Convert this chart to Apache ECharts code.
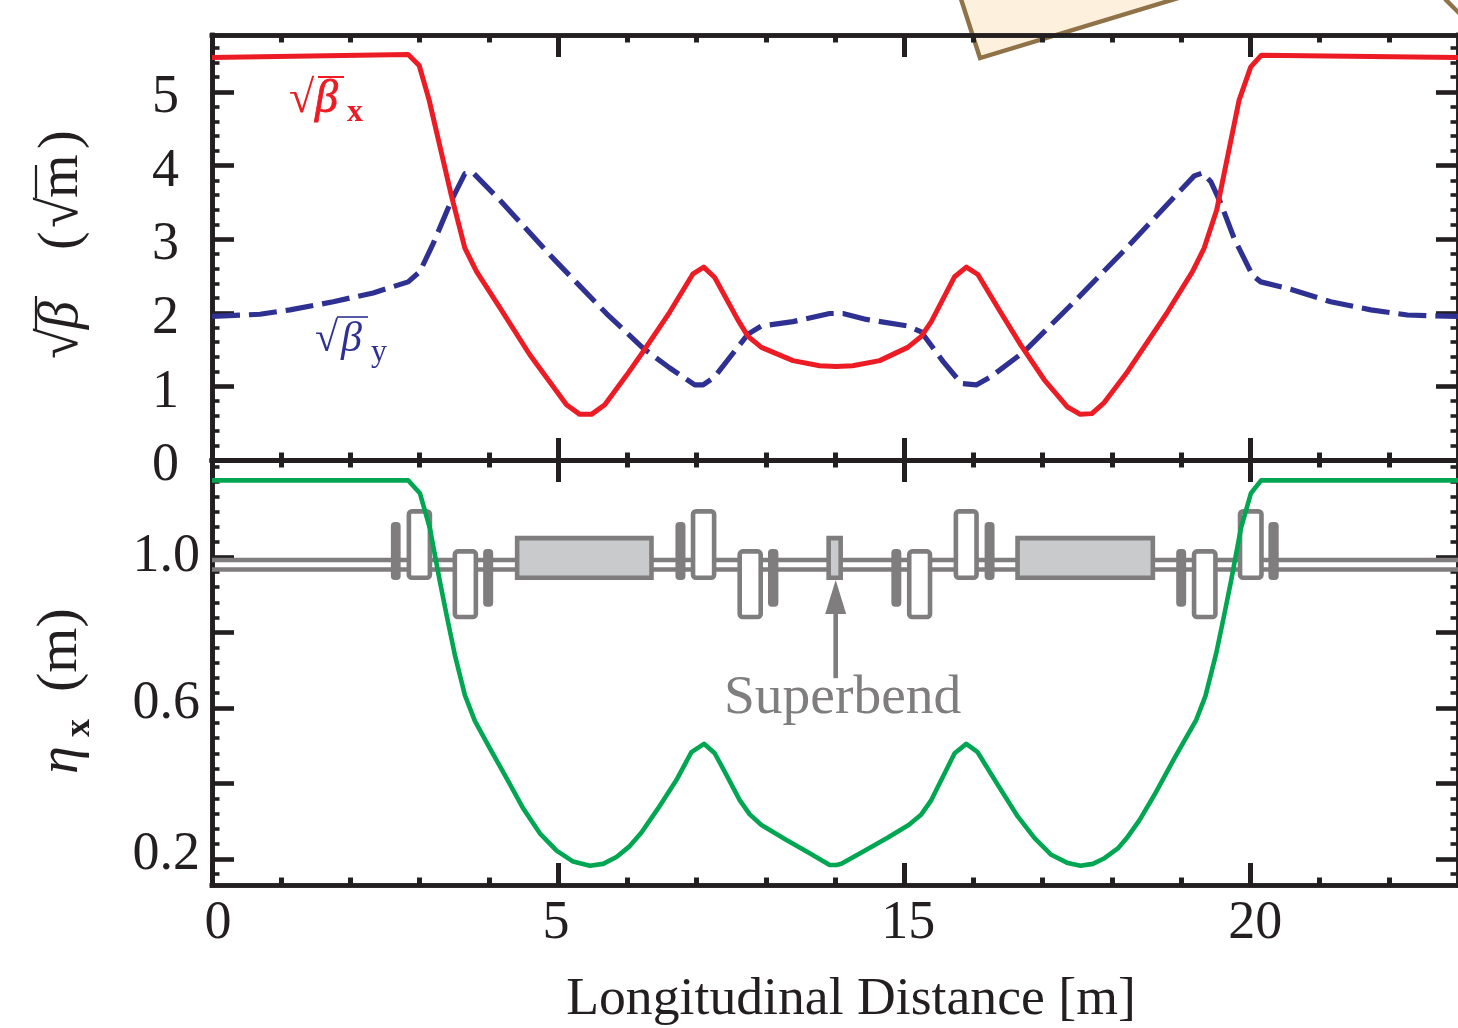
<!DOCTYPE html>
<html><head><meta charset="utf-8">
<style>html,body{margin:0;padding:0;background:#fff}#c{width:1458px;height:1028px}</style>
<script src="https://cdn.jsdelivr.net/npm/echarts@6/dist/echarts.min.js"></script>
</head><body><div id="c"></div>
<script>
// ---- data (x in axis tick units: 5 units per labelled tick) ----
const xMajor = [0, 5, 10, 15];
const xTickLabels = ['0', '5', '15', '20'];
const xMinor = [1, 2, 3, 4, 6, 7, 8, 9, 11, 12, 13, 14, 16, 17];
const betaMajor = [0, 1, 2, 3, 4, 5];
const betaMinor = [0.2,0.4,0.6,0.8,1.2,1.4,1.6,1.8,2.2,2.4,2.6,2.8,3.2,3.4,3.6,3.8,4.2,4.4,4.6,4.8,5.2,5.4,5.6];
const etaMajor = [0.2, 0.4, 0.6, 0.8, 1.0];
const etaLabels = {0.2: '0.2', 0.6: '0.6', 1: '1.0'};
const etaMinor = [0.16,0.24,0.28,0.32,0.36,0.44,0.48,0.52,0.56,0.64,0.68,0.72,0.76,0.84,0.88,0.92,0.96,1.04,1.08,1.12,1.16,1.2,1.24];

const betaXs = [0,2.834,2.993,3.137,3.461,3.653,3.822,4.158,4.591,5.121,5.313,5.482,5.674,5.988,6.227,6.613,6.949,7.104,7.262,7.599,7.743,7.937,8.393,8.778,9.02,9.255,9.645,10.05,10.247,10.391,10.728,10.897,11.064,11.377,11.685,12.023,12.359,12.543,12.71,12.889,13.226,13.803,14.164,14.333,14.515,14.838,15.006,15.16,18];
const betaX = [5.47,5.51,5.36,4.89,3.58,2.88,2.56,2.07,1.43,0.75,0.62,0.62,0.75,1.15,1.47,2.01,2.53,2.62,2.48,1.90,1.68,1.53,1.35,1.28,1.27,1.28,1.35,1.53,1.68,1.88,2.49,2.62,2.52,2.03,1.56,1.09,0.72,0.62,0.63,0.78,1.20,2.01,2.56,2.88,3.40,4.89,5.34,5.50,5.47];
const betaYs = [0,0.693,1.126,1.752,2.329,2.834,3.003,3.195,3.461,3.653,3.773,4.158,4.928,5.698,6.227,6.613,6.974,7.094,7.262,7.527,7.743,7.937,8.393,8.923,9.115,9.453,10.054,10.247,10.56,10.825,11.04,11.25,11.73,12.456,13.18,13.947,14.19,14.31,14.43,14.572,14.766,15.03,15.15,15.58,16.16,16.74,17.27,18];
const betaY = [1.95,1.98,2.04,2.15,2.27,2.42,2.56,2.94,3.53,3.89,3.90,3.53,2.74,1.99,1.52,1.25,1.02,1.02,1.13,1.45,1.71,1.82,1.88,1.99,1.99,1.91,1.82,1.74,1.34,1.04,1.02,1.13,1.47,2.15,2.85,3.62,3.86,3.90,3.78,3.49,3.01,2.51,2.42,2.32,2.15,2.04,1.97,1.95];
const etaXs = [0,2.834,3.003,3.148,3.292,3.389,3.509,3.653,3.797,4.014,4.255,4.495,4.736,4.977,5.217,5.458,5.65,5.843,6.035,6.204,6.444,6.709,6.926,7.108,7.262,7.431,7.623,7.768,7.937,8.298,8.634,8.923,9.02,9.092,9.428,9.765,10.064,10.247,10.391,10.728,10.897,11.056,11.353,11.642,11.883,12.124,12.364,12.547,12.725,12.893,13.086,13.23,13.399,13.615,13.904,14.217,14.352,14.506,14.622,14.72,14.864,15.009,15.156,18];
const etaX = [1.203,1.203,1.169,1.076,0.935,0.846,0.740,0.634,0.566,0.493,0.414,0.334,0.268,0.222,0.193,0.182,0.187,0.205,0.234,0.270,0.334,0.409,0.483,0.505,0.480,0.423,0.356,0.318,0.290,0.250,0.215,0.184,0.184,0.187,0.222,0.257,0.290,0.318,0.356,0.480,0.505,0.484,0.396,0.312,0.255,0.211,0.189,0.182,0.187,0.202,0.228,0.259,0.303,0.370,0.467,0.568,0.632,0.744,0.846,0.935,1.076,1.169,1.203,1.203];

const pipeS = [0, 18];
const pipeUpper = [0.992, 0.992];
const pipeLower = [0.967, 0.967];
// magnets: [x start, x end, top, bottom]
const quads = [[2.811,3.181,1.127,0.939],[3.475,3.845,1.021,0.835],[6.916,7.287,1.127,0.939],[7.59,7.96,1.021,0.835],[10.039,10.406,1.021,0.835],[10.713,11.078,1.127,0.939],[14.154,14.529,1.021,0.835],[14.818,15.194,1.127,0.939]];
const sextupoles = [[2.584,2.725,1.093,0.939],[3.917,4.062,1.021,0.868],[6.695,6.84,1.093,0.939],[8.032,8.182,1.021,0.868],[9.814,9.958,1.021,0.868],[11.161,11.305,1.093,0.939],[13.929,14.073,1.021,0.868],[15.261,15.41,1.093,0.939]];
const dipoles = [[4.375,6.382,1.056,0.939],[8.875,9.115,1.056,0.939],[11.604,13.625,1.056,0.939]];
const superbendArrow = [[9.01, 0.679, 0.939]];

// ---- styling ----
const INK = '#231f20', GRAY = '#7f7d7e', SERIF = '"Liberation Serif","Times New Roman",serif';
const FONT = 54, TITLE = 56;
const zip = (a, b) => a.map((v, i) => [v, b[i]]);

function axisBase(gridIndex, position, min, max, customValues, tickLen, tickWidth) {
  return {
    type: 'value', gridIndex, position, min, max, scale: false, silent: true, z: 1,
    splitLine: {show: false}, minorTick: {show: false},
    axisLine: {show: true, onZero: false, lineStyle: {color: INK, width: 4.6, cap: 'square'}},
    axisTick: {show: true, inside: true, length: tickLen, customValues, lineStyle: {color: INK, width: tickWidth}},
    axisLabel: {show: false}
  };
}
const xAxes = [], yAxes = [];
function panel(g, yMin, yMax, yMaj, yMin2, yLabel) {
  const x0 = xAxes.length, y0 = yAxes.length;
  ['bottom', 'top'].forEach(p => {
    xAxes.push(axisBase(g, p, 0, 18, xMajor, 22, 5));
    xAxes.push(axisBase(g, p, 0, 18, xMinor, 7.5, 5));
  });
  ['left', 'right'].forEach(p => {
    yAxes.push(axisBase(g, p, yMin, yMax, yMaj, 22, 4.6));
    yAxes.push(axisBase(g, p, yMin, yMax, yMin2, 7.5, 3.6));
  });
  Object.assign(yAxes[y0].axisLabel, yLabel);
  return {x0, y0};
}
const richBase = {fontFamily: SERIF, fontSize: FONT, color: INK};
const rich = (pad) => Object.assign({padding: pad}, richBase);

const upperAxes = panel(0, 0, 5.774, betaMajor, betaMinor, {
  show: true, customValues: betaMajor, margin: 33, align: 'right',
  formatter: v => '{d|' + v + '}',
  rich: {d: rich([12, 0, 0, 0])}
});
const lowerAxes = panel(1, 0.131, 1.257, etaMajor, etaMinor, {
  show: true, customValues: [0.2, 0.6, 1.0], margin: 12, align: 'right',
  formatter: v => v === 1 ? '{a|1.0}' : '{b|' + etaLabels[v] + '}',
  rich: {a: rich([0, 0, 0, 0]), b: rich([0, 0, 8, 0])}
});
// bottom x axis carries the labels and the title
const xKeys = ['p0', 'p1', 'p2', 'p3'];
Object.assign(xAxes[lowerAxes.x0].axisLabel, {
  show: true, customValues: xMajor, margin: 12,
  formatter: v => '{' + xKeys[xMajor.indexOf(v)] + '|' + xTickLabels[xMajor.indexOf(v)] + '}',
  rich: {p0: rich([0, 0, 0, 12]), p1: rich([0, 4, 0, 0]), p2: rich([0, 0, 0, 8]), p3: rich([0, 0, 0, 10])}
});
Object.assign(xAxes[lowerAxes.x0], {
  name: 'Longitudinal Distance [m]', nameLocation: 'middle', nameGap: 88,
  nameTextStyle: {fontFamily: SERIF, fontSize: 53.7, color: INK, padding: [0, 0, 0, 32]}
});

function magnetSeries(name, data, fill, strokeW, radius) {
  return {
    type: 'custom', name, xAxisIndex: lowerAxes.x0, yAxisIndex: lowerAxes.y0, z: 3, silent: true, clip: false,
    data, encode: {x: [0, 1], y: [2, 3]},
    renderItem(params, api) {
      const a = api.coord([api.value(0), api.value(2)]);
      const b = api.coord([api.value(1), api.value(3)]);
      const h = strokeW / 2;
      return {
        type: 'rect',
        shape: {x: a[0] + h, y: a[1] + h, width: b[0] - a[0] - strokeW, height: b[1] - a[1] - strokeW, r: radius},
        style: {fill, stroke: strokeW ? GRAY : null, lineWidth: strokeW}
      };
    }
  };
}

const series = [
  {type: 'line', name: 'sqrt beta y', data: zip(betaYs, betaY), xAxisIndex: upperAxes.x0, yAxisIndex: upperAxes.y0, symbol: 'none', z: 4, silent: true,
   lineStyle: {color: '#2e3192', width: 5.2, type: [28, 9], join: 'round'}},
  {type: 'line', name: 'sqrt beta x', data: zip(betaXs, betaX), xAxisIndex: upperAxes.x0, yAxisIndex: upperAxes.y0, symbol: 'none', z: 5, silent: true,
   lineStyle: {color: '#ed1c24', width: 5, join: 'round'}},
  {type: 'line', name: 'pipe upper', data: zip(pipeS, pipeUpper), xAxisIndex: lowerAxes.x0, yAxisIndex: lowerAxes.y0, symbol: 'none', z: 2, silent: true,
   lineStyle: {color: GRAY, width: 4.6}},
  {type: 'line', name: 'pipe lower', data: zip(pipeS, pipeLower), xAxisIndex: lowerAxes.x0, yAxisIndex: lowerAxes.y0, symbol: 'none', z: 2, silent: true,
   lineStyle: {color: GRAY, width: 4.6}},
  magnetSeries('quadrupoles', quads, '#ffffff', 4.6, 3),
  magnetSeries('sextupoles', sextupoles, GRAY, 0, 4),
  magnetSeries('dipoles', dipoles, '#c9cacc', 4.6, 0),
  {
    type: 'custom', name: 'superbend arrow', xAxisIndex: lowerAxes.x0, yAxisIndex: lowerAxes.y0, z: 3, silent: true,
    data: superbendArrow, encode: {x: 0, y: [1, 2]},
    renderItem(params, api) {
      const tail = api.coord([api.value(0), api.value(1)]);
      const tip = api.coord([api.value(0), api.value(2)]);
      const headLen = 34, headHalf = 10.5;
      return {type: 'group', children: [
        {type: 'line', shape: {x1: tail[0], y1: tail[1], x2: tip[0], y2: tip[1] + headLen - 1}, style: {stroke: GRAY, lineWidth: 4.6}},
        {type: 'polygon', shape: {points: [[tip[0], tip[1]], [tip[0] - headHalf, tip[1] + headLen], [tip[0] + headHalf, tip[1] + headLen]]}, style: {fill: GRAY}}
      ]};
    }
  },
  {type: 'line', name: 'eta x', data: zip(etaXs, etaX), xAxisIndex: lowerAxes.x0, yAxisIndex: lowerAxes.y0, symbol: 'none', z: 6, silent: true,
   lineStyle: {color: '#00a651', width: 4.6, join: 'round'}}
];

// text pieces: horizontal and rotated
const txt = (text, x, y, size, color, extra) => ({
  type: 'text', x, y, z: 20, silent: true,
  style: Object.assign({text, fontFamily: SERIF, fontSize: size, fill: color, textAlign: 'left', textVerticalAlign: 'middle'}, extra || {})
});
const R = Math.PI / 2;
const bar = (x1, y1, x2, y2, color, w) => ({type: 'line', z: 20, silent: true, shape: {x1, y1, x2, y2}, style: {stroke: color, lineWidth: w}});

const graphic = [
  // brown tilted sheet behind the frame
  {type: 'polygon', z: -1, silent: true, shape: {points: [[960, -4], [980, 58], [1185, -4]]}, style: {fill: '#fdf1de', stroke: '#8f7247', lineWidth: 4.4}},
  {type: 'line', z: -1, silent: true, shape: {x1: 1445, y1: -1, x2: 1460, y2: 14}, style: {stroke: '#8f7247', lineWidth: 4.4}},
  // y titles
  Object.assign(txt('\u221A', 62, 359, TITLE, INK), {rotation: R}),
  Object.assign(txt('\u03B2', 62, 329, TITLE, INK, {fontStyle: 'italic'}), {rotation: R}),
  bar(36, 296, 36, 330, INK, 2.2),
  Object.assign(txt('(', 62, 250, TITLE, INK), {rotation: R}),
  Object.assign(txt('\u221A', 62, 228, TITLE, INK), {rotation: R}),
  Object.assign(txt('m', 62, 198, TITLE, INK), {rotation: R}),
  Object.assign(txt(')', 62, 149, TITLE, INK), {rotation: R}),
  bar(36, 165, 36, 198, INK, 2.2),
  Object.assign(txt('\u03B7', 62, 774, TITLE, INK, {fontStyle: 'italic'}), {rotation: R}),
  Object.assign(txt('x', 80, 737, 36, INK, {fontWeight: 'bold'}), {rotation: R}),
  Object.assign(txt('(m)', 61, 692, 58, INK), {rotation: R}),
  // curve labels
  txt('\u221A', 289, 100, 46, '#ed1c24'),
  txt('\u03B2', 315, 100, 46, '#ed1c24', {fontStyle: 'italic', stroke: '#ed1c24', lineWidth: 0.8}),
  bar(318, 77, 344, 77, '#ed1c24', 2),
  txt('x', 347, 113, 32, '#ed1c24', {fontWeight: 'bold'}),
  txt('\u221A', 315, 340, 42, '#2e3192'),
  txt('\u03B2', 341, 340, 42, '#2e3192', {fontStyle: 'italic'}),
  bar(337, 317, 368, 317, '#2e3192', 1.6),
  txt('y', 371, 353, 32, '#2e3192'),
  // annotation
  txt('Superbend', 724, 698, 55.5, GRAY)
];

const option = {
  animation: false, backgroundColor: '#ffffff', tooltip: {show: false}, legend: {show: false},
  grid: [
    {left: 212, top: 35, width: 1246.7, height: 425, containLabel: false},
    {left: 212, top: 460, width: 1246.7, height: 425, containLabel: false}
  ],
  xAxis: xAxes, yAxis: yAxes, series, graphic: {elements: graphic}
};
echarts.init(document.getElementById('c'), null, {renderer: 'canvas'}).setOption(option);
</script></body></html>
